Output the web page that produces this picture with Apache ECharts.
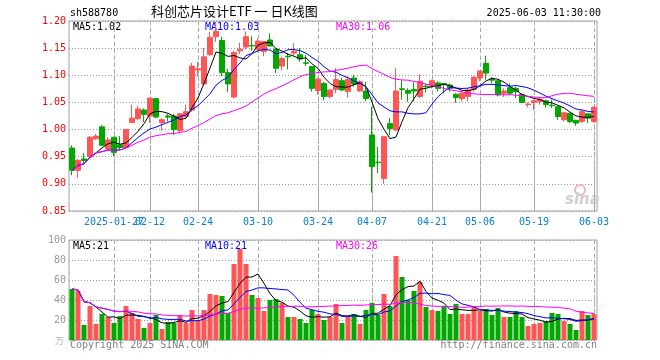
<!DOCTYPE html>
<html><head><meta charset="utf-8">
<script src="https://cdn.jsdelivr.net/npm/echarts@6/dist/echarts.min.js"></script>
<style>html,body{margin:0;padding:0;background:#fff}#c{width:660px;height:360px}</style>
</head><body><div id="c"></div>
<script>
const dates = ['2025-01-16','2025-01-17','2025-01-20','2025-01-21','2025-01-22','2025-01-23','2025-01-24','2025-01-27',
'2025-02-05','2025-02-06','2025-02-07','2025-02-10','2025-02-11','2025-02-12','2025-02-13','2025-02-14','2025-02-17','2025-02-18','2025-02-19','2025-02-20','2025-02-21','2025-02-24','2025-02-25','2025-02-26','2025-02-27','2025-02-28',
'2025-03-03','2025-03-04','2025-03-05','2025-03-06','2025-03-07','2025-03-10','2025-03-11','2025-03-12','2025-03-13','2025-03-14','2025-03-17','2025-03-18','2025-03-19','2025-03-20','2025-03-21','2025-03-24','2025-03-25','2025-03-26','2025-03-27','2025-03-28','2025-03-31',
'2025-04-01','2025-04-02','2025-04-03','2025-04-07','2025-04-08','2025-04-09','2025-04-10','2025-04-11','2025-04-14','2025-04-15','2025-04-16','2025-04-17','2025-04-18','2025-04-21','2025-04-22','2025-04-23','2025-04-24','2025-04-25','2025-04-28','2025-04-29','2025-04-30',
'2025-05-06','2025-05-07','2025-05-08','2025-05-09','2025-05-12','2025-05-13','2025-05-14','2025-05-15','2025-05-16','2025-05-19','2025-05-20','2025-05-21','2025-05-22','2025-05-23','2025-05-26','2025-05-27','2025-05-28','2025-05-29','2025-05-30',
'2025-06-03'];
const opens = [0.966,0.925,0.946,0.950,0.983,1.005,0.964,0.986,0.972,0.967,1.013,1.020,1.036,1.025,1.057,1.013,1.025,1.025,0.998,1.024,
1.036,1.110,1.084,1.138,1.171,1.164,1.105,1.060,1.145,1.152,1.155,1.148,1.144,1.165,1.148,1.117,1.135,1.141,1.138,1.123,
1.116,1.072,1.085,1.061,1.074,1.090,1.070,1.095,1.071,1.071,0.990,0.940,0.910,1.011,0.999,1.075,1.072,1.074,1.061,1.080,
1.080,1.086,1.085,1.082,1.065,1.057,1.061,1.074,1.095,1.122,1.093,1.090,1.067,1.077,1.076,1.065,1.046,1.050,1.052,1.053,
1.045,1.042,1.018,1.030,1.017,1.015,1.029,1.015];
const closes = [0.925,0.943,0.943,0.986,0.988,0.971,0.981,0.958,0.967,1.000,1.021,1.038,1.028,1.058,1.023,1.018,1.023,1.000,1.029,1.033,
1.117,1.112,1.134,1.170,1.181,1.105,1.084,1.142,1.148,1.171,1.154,1.163,1.162,1.154,1.113,1.131,1.134,1.144,1.130,1.122,
1.076,1.093,1.061,1.073,1.092,1.073,1.092,1.084,1.088,1.057,0.932,0.939,0.987,1.002,1.071,1.074,1.067,1.071,1.089,1.079,
1.090,1.076,1.083,1.076,1.059,1.067,1.073,1.096,1.108,1.104,1.091,1.064,1.071,1.067,1.070,1.050,1.047,1.053,1.056,1.046,
1.044,1.024,1.031,1.015,1.012,1.033,1.021,1.041];
const lows = [0.916,0.911,0.935,0.949,0.981,0.970,0.963,0.951,0.962,0.965,1.012,1.018,1.014,1.012,1.021,0.998,1.015,0.990,0.993,1.021,
1.033,1.098,1.082,1.136,1.162,1.098,1.069,1.057,1.139,1.148,1.145,1.144,1.135,1.153,1.104,1.109,1.111,1.137,1.125,1.117,
1.070,1.064,1.054,1.057,1.067,1.071,1.059,1.079,1.070,1.052,0.884,0.920,0.900,0.990,0.998,1.055,1.051,1.052,1.058,1.068,
1.076,1.070,1.067,1.070,1.049,1.052,1.052,1.070,1.089,1.092,1.085,1.061,1.060,1.064,1.058,1.049,1.041,1.036,1.046,1.040,
1.040,1.018,1.015,1.012,1.007,1.012,1.012,1.013];
const highs = [0.971,0.946,0.957,0.988,0.992,1.008,0.986,0.986,0.988,1.000,1.046,1.044,1.039,1.058,1.057,1.021,1.029,1.029,1.031,1.046,
1.123,1.125,1.150,1.180,1.198,1.171,1.112,1.145,1.160,1.181,1.172,1.168,1.163,1.177,1.150,1.134,1.141,1.159,1.150,1.137,
1.116,1.095,1.088,1.073,1.113,1.095,1.098,1.101,1.091,1.088,1.042,0.968,0.987,1.021,1.113,1.091,1.076,1.087,1.102,1.085,
1.092,1.089,1.086,1.085,1.067,1.071,1.076,1.099,1.108,1.136,1.097,1.090,1.076,1.085,1.079,1.067,1.050,1.055,1.058,1.055,
1.055,1.044,1.031,1.030,1.018,1.036,1.029,1.043];
const volumes = [51,49,15,34,16,26,23,17,24,34,27,21,12,17,25,11,18,17,25,17,
30,20,30,46,45,44,27,76,91,76,45,42,29,40,41,37,23,23,21,17,
30,26,20,23,36,17,24,26,16,30,37,25,46,34,84,63,40,49,58,33,
30,29,34,26,36,26,26,34,29,31,25,32,23,23,29,23,14,16,17,19,
27,26,19,16,10,29,25,26];
const labelDates = ['2025-01-27','2025-02-12','2025-02-24','2025-03-10','2025-03-24','2025-04-07','2025-04-21','2025-05-06','2025-05-19','2025-06-03'];
const priceMin = 0.85, priceMax = 1.20, priceStep = 0.05;
const volMin = 0, volMax = 100, volStep = 20;
const maPeriods = [5, 10, 30];
const maColors = ['#000000', '#0000ff', '#ff00ff'];

const UP = '#ff5555', DOWN = '#00a800';
function ma(arr, n) {
  return arr.map((_, i) => {
    const s = Math.max(0, i - n + 1); let t = 0;
    for (let j = s; j <= i; j++) t += arr[j];
    return +(t / (i - s + 1)).toFixed(4);
  });
}
const labelIdx = labelDates.map(d => dates.indexOf(d));
const labelSet = new Set(labelIdx);
const firstLabel = labelIdx[0];
const mono = 'DejaVu Sans Mono';
const candleData = dates.map((d, i) => [opens[i], closes[i], lows[i], highs[i]]);
const volData = volumes.map((v, i) => ({ value: v, itemStyle: { color: closes[i] >= opens[i] ? UP : DOWN } }));
const priceMA = maPeriods.map(n => ma(closes, n));
const volMA = maPeriods.map(n => ma(volumes, n));
const guideData = dates.map((d, i) => (labelSet.has(i) ? 1 : '-'));

const chart = echarts.init(document.getElementById('c'), null, { renderer: 'canvas' });
const last = a => a[a.length - 1];
const graphics = [
  { type: 'text', left: 70, top: 8, style: { text: 'sh588780', font: '10px ' + mono, fill: '#000' } },
  { type: 'text', left: 151, top: 5, style: { text: '科创芯片设计ETF 一 日K线图', font: '13px "Noto Sans CJK SC"', fill: '#000' } },
  { type: 'text', right: 59, top: 8, style: { text: '2025-06-03 11:30:00', font: '10px ' + mono, fill: '#000' } },
  { type: 'text', left: 73, top: 22, style: { text: 'MA5:' + last(priceMA[0]).toFixed(2), font: '10px ' + mono, fill: maColors[0] } },
  { type: 'text', left: 205, top: 22, style: { text: 'MA10:' + last(priceMA[1]).toFixed(2), font: '10px ' + mono, fill: maColors[1] } },
  { type: 'text', left: 336, top: 22, style: { text: 'MA30:' + last(priceMA[2]).toFixed(2), font: '10px ' + mono, fill: maColors[2] } },
  { type: 'text', left: 73, top: 241, style: { text: 'MA5:' + Math.round(last(volMA[0])), font: '10px ' + mono, fill: maColors[0] } },
  { type: 'text', left: 205, top: 241, style: { text: 'MA10:' + Math.round(last(volMA[1])), font: '10px ' + mono, fill: maColors[1] } },
  { type: 'text', left: 336, top: 241, style: { text: 'MA30:' + Math.round(last(volMA[2])), font: '10px ' + mono, fill: maColors[2] } },
  { type: 'text', left: 70, top: 340, style: { text: 'Copyright 2025 SINA.COM', font: '10px ' + mono, fill: '#808080' } },
  { type: 'text', right: 63, top: 340, style: { text: 'http://finance.sina.com.cn', font: '10px ' + mono, fill: '#808080' } },
  { type: 'text', left: 55, top: 336, style: { text: '万', font: '9px "Noto Sans CJK SC"', fill: '#b0b0b0' } },
  { type: 'circle', shape: { cx: 580, cy: 190, r: 5 }, style: { fill: 'none', stroke: '#f2b5b5', lineWidth: 2 }, z: 1 },
  { type: 'text', left: 565, top: 193, style: { text: 'sina', font: 'italic bold 15px "DejaVu Sans"', fill: '#cfcfcf' }, z: 1 }
];

const xLabelBase = { margin: 6, color: '#0a80d8', fontFamily: mono, fontSize: 10, hideOverlap: false };
const hiddenCat = (g) => ({ type: 'category', gridIndex: g, data: dates, boundaryGap: true,
  axisLine: { show: false }, axisTick: { show: false }, axisLabel: { show: false }, splitLine: { show: false } });
const hiddenVal = (g) => ({ type: 'value', gridIndex: g, min: 0, max: 1,
  axisLine: { show: false }, axisTick: { show: false }, axisLabel: { show: false }, splitLine: { show: false } });
const guideSeries = (ax) => ({
  type: 'pictorialBar', xAxisIndex: ax, yAxisIndex: ax, data: guideData, silent: true, z: 1,
  symbol: 'rect', symbolSize: [1, 4], symbolRepeat: true, symbolMargin: 1.5, symbolOffset: [0.5, 0],
  itemStyle: { color: '#a8a8a8' }, barWidth: 1
});

const option = {
  animation: false,
  backgroundColor: '#fff',
  grid: [
    { left: 69, top: 21, width: 528, height: 190, show: true, borderColor: '#a0a0a0', borderWidth: 1 },
    { left: 69, top: 240, width: 528, height: 100, show: true, borderColor: '#a0a0a0', borderWidth: 1 },
    { left: 69, top: 21, width: 528, height: 190, show: false },
    { left: 69, top: 240, width: 528, height: 100, show: false }
  ],
  xAxis: [
    { type: 'category', gridIndex: 0, data: dates, boundaryGap: true,
      axisLine: { show: false }, axisTick: { show: false }, splitLine: { show: false },
      axisLabel: Object.assign({}, xLabelBase, { interval: (i) => labelSet.has(i) && i !== firstLabel,
        formatter: (v) => v.slice(5) }) },
    hiddenCat(1),
    hiddenCat(2),
    hiddenCat(3),
    { type: 'category', gridIndex: 0, data: dates, boundaryGap: true, position: 'bottom',
      axisLine: { show: false }, axisTick: { show: false }, splitLine: { show: false },
      axisLabel: Object.assign({}, xLabelBase, { interval: (i) => i === firstLabel, formatter: (v) => v }) }
  ],
  yAxis: [
    { type: 'value', gridIndex: 0, min: priceMin, max: priceMax, interval: priceStep,
      axisLine: { show: false }, axisTick: { show: false },
      axisLabel: { color: '#ff0000', fontFamily: mono, fontSize: 10, margin: 3, formatter: v => v.toFixed(2) },
      splitLine: { show: true, lineStyle: { color: '#999999', type: [1, 2], width: 1 } } },
    { type: 'value', gridIndex: 1, min: volMin, max: volMax, interval: volStep,
      axisLine: { show: false }, axisTick: { show: false },
      axisLabel: { color: '#999999', fontFamily: mono, fontSize: 10, margin: 3, formatter: v => (v === 0 ? '' : String(v)) },
      splitLine: { show: true, lineStyle: { color: '#999999', type: [1, 2], width: 1 } } },
    hiddenVal(2),
    hiddenVal(3)
  ],
  series: [
    guideSeries(2),
    guideSeries(3),
    { type: 'candlestick', xAxisIndex: 0, yAxisIndex: 0, data: candleData, barWidth: 5, z: 3,
      itemStyle: { color: UP, color0: DOWN, borderColor: UP, borderColor0: DOWN, borderWidth: 1 } },
    ...maPeriods.map((n, k) => ({ type: 'line', xAxisIndex: 0, yAxisIndex: 0, data: priceMA[k], showSymbol: false, symbol: 'none',
      lineStyle: { color: maColors[k], width: 1 }, z: 5 })),
    { type: 'bar', xAxisIndex: 1, yAxisIndex: 1, data: volData, barWidth: 5, z: 3 },
    ...maPeriods.map((n, k) => ({ type: 'line', xAxisIndex: 1, yAxisIndex: 1, data: volMA[k], showSymbol: false, symbol: 'none',
      lineStyle: { color: maColors[k], width: 1 }, z: 5 }))
  ],
  graphic: graphics
};
chart.setOption(option);

// dashed vertical guides placed through the library's own scales (convertToPixel)
const guideEls = [];
labelIdx.forEach(i => {
  const top = chart.convertToPixel({ xAxisIndex: 0, yAxisIndex: 0 }, [i, priceMax]);
  const bot = chart.convertToPixel({ xAxisIndex: 0, yAxisIndex: 0 }, [i, priceMin]);
  const vtop = chart.convertToPixel({ xAxisIndex: 1, yAxisIndex: 1 }, [i, volMax]);
  const vbot = chart.convertToPixel({ xAxisIndex: 1, yAxisIndex: 1 }, [i, volMin]);
  if (!top || !bot || !vtop || !vbot) return;
  const x = Math.round(top[0]) + 0.5;
  [[top[1], bot[1]], [vtop[1], vbot[1]]].forEach(([y1, y2]) => {
    guideEls.push({ type: 'line', silent: true, z: 1,
      shape: { x1: x, y1: y1, x2: x, y2: y2 },
      style: { stroke: '#a8a8a8', lineWidth: 1, lineDash: [4, 3] } });
  });
});
chart.setOption({ graphic: graphics.concat(guideEls) });
</script></body></html>
